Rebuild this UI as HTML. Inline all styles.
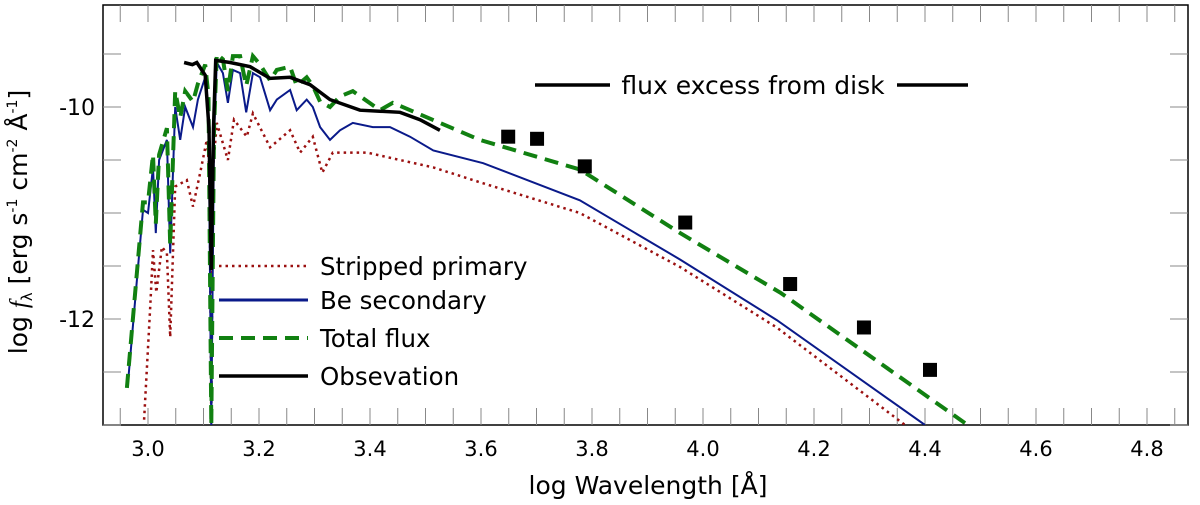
<!DOCTYPE html>
<html><head><meta charset="utf-8"><style>
body{margin:0;background:#fff;}
svg text{font-family:"DejaVu Sans","Liberation Sans",sans-serif;fill:#000;}
</style></head><body>
<svg id="chart" width="1200" height="500" viewBox="0 0 1200 500">
<g id="axes"></g><g id="series"></g><g id="legend"></g>
</svg>
<script>
const xTicks=[3.0,3.2,3.4,3.6,3.8,4.0,4.2,4.4,4.6,4.8];
const yTicks=[-10,-12];
const primX=[2.993,3.004,3.009,3.015,3.025,3.034,3.040,3.049,3.070,3.081,3.094,3.106,3.111,3.114,3.117,3.124,3.144,3.155,3.178,3.189,3.220,3.256,3.274,3.297,3.314,3.333,3.395,3.454,3.514,3.604,3.778,3.959,4.133,4.364];
const primY=[-12.95,-11.89,-11.35,-11.75,-11.32,-11.38,-12.17,-10.75,-10.69,-10.94,-10.62,-10.31,-10.6,-13.0,-10.6,-10.15,-10.50,-10.12,-10.28,-10.06,-10.38,-10.22,-10.43,-10.28,-10.62,-10.43,-10.43,-10.50,-10.57,-10.72,-11.0,-11.51,-12.08,-13.0];
const secX=[2.964,2.991,3.000,3.009,3.014,3.020,3.034,3.040,3.049,3.058,3.067,3.081,3.090,3.103,3.109,3.114,3.119,3.124,3.135,3.144,3.153,3.166,3.177,3.189,3.202,3.220,3.232,3.256,3.268,3.286,3.297,3.310,3.328,3.346,3.369,3.405,3.436,3.472,3.514,3.604,3.778,3.959,4.133,4.400];
const secY=[-12.60,-10.97,-11.00,-10.57,-11.19,-10.50,-10.31,-11.38,-10.00,-10.31,-10.00,-10.19,-9.93,-9.72,-10.0,-13.0,-10.3,-9.58,-9.68,-9.96,-9.65,-9.68,-10.05,-9.68,-9.72,-10.03,-9.93,-9.84,-10.03,-9.93,-10.00,-10.19,-10.31,-10.22,-10.15,-10.19,-10.19,-10.28,-10.41,-10.53,-10.88,-11.44,-12.01,-13.00];
const totX=[2.962,2.991,3.000,3.009,3.014,3.020,3.034,3.040,3.049,3.058,3.067,3.081,3.090,3.103,3.109,3.114,3.119,3.124,3.135,3.144,3.153,3.166,3.177,3.189,3.202,3.220,3.232,3.256,3.268,3.286,3.297,3.310,3.328,3.346,3.369,3.418,3.441,3.598,3.778,3.959,4.139,4.477];
const totY=[-12.65,-10.9,-10.9,-10.45,-11.1,-10.45,-10.2,-11.3,-9.85,-10.1,-9.85,-9.95,-9.78,-9.6,-9.9,-13.0,-10.2,-9.5,-9.55,-9.85,-9.52,-9.52,-9.8,-9.52,-9.6,-9.75,-9.65,-9.62,-9.8,-9.72,-9.8,-9.95,-10.0,-9.9,-9.85,-10.03,-9.96,-10.31,-10.59,-11.19,-11.75,-13.0];
const obsX=[3.065,3.080,3.088,3.103,3.110,3.114,3.118,3.122,3.148,3.184,3.220,3.256,3.292,3.328,3.382,3.454,3.490,3.526];
const obsY=[-9.58,-9.60,-9.58,-9.70,-10.2,-11.54,-10.2,-9.56,-9.58,-9.62,-9.73,-9.72,-9.79,-9.93,-10.03,-10.05,-10.12,-10.22];
const photX=[3.649,3.701,3.787,3.968,4.157,4.290,4.409];
const photY=[-10.28,-10.30,-10.56,-11.09,-11.67,-12.08,-12.48];
const L=103,R=1188,T=5,B=425;
function sx(v){return 148+(v-3)*555;}
function sy(v){return 107+(-10-v)*106;}
const NS='http://www.w3.org/2000/svg';
function mk(tag,at,parent){const e=document.createElementNS(NS,tag);for(const k in at)e.setAttribute(k,at[k]);parent.appendChild(e);return e;}
const axes=document.getElementById('axes'),ser=document.getElementById('series'),leg=document.getElementById('legend');
const frame=mk('rect',{x:L,y:T,width:R-L,height:B-T,fill:'none',stroke:'#000','stroke-width':1.5},axes);


for(let v=2.95;v<=4.86;v+=0.05){const x=sx(v);if(x<L||x>R)continue;
 const t=mk('path',{d:`M${x},${B}V${B-17}M${x},${T}V${T+17}`,stroke:'#888','stroke-width':1},axes);
 
 }
for(let v=-9.0;v>=-13.01;v-=0.5){const y=sy(v);if(y<T||y>B)continue;
 const t=mk('path',{d:`M${L},${y}H${L+18}M${R},${y}H${R-18}`,stroke:'#888','stroke-width':1},axes);
 
 }
xTicks.forEach(v=>{const t=mk('text',{x:sx(v),y:456,'font-size':21,'text-anchor':'middle'},axes);t.textContent=v.toFixed(1);
 
 });
yTicks.forEach(v=>{const t=mk('text',{x:95,y:sy(v)+8,'font-size':22,'text-anchor':'end'},axes);t.textContent=String(v);
 
 });
const xt=mk('text',{x:648,y:494,'font-size':25,'text-anchor':'middle'},axes);xt.textContent='log Wavelength [Å]';


const yt=mk('text',{x:0,y:0,'font-size':25,'text-anchor':'middle',transform:'translate(27,222) rotate(-90)'},axes);
yt.innerHTML='log <tspan font-style="italic" font-family="Liberation Serif">f</tspan><tspan font-size="15" dy="5">λ</tspan><tspan dy="-5"> [erg s</tspan><tspan font-size="14" dy="-10">-1</tspan><tspan dy="10"> cm</tspan><tspan font-size="14" dy="-10">-2</tspan><tspan dy="10"> Å</tspan><tspan font-size="14" dy="-10">-1</tspan><tspan dy="10">]</tspan>';


function pathOf(xs,ys){return xs.map((x,i)=>(i?'L':'M')+sx(x).toFixed(1)+','+Math.min(B,sy(ys[i])).toFixed(1)).join('');}
const cp=mk('clipPath',{id:'clip'},ser);mk('rect',{x:L,y:T,width:R-L,height:B-T},cp);
const p1=mk('path',{d:pathOf(primX,primY),fill:'none',stroke:'#9b1010','stroke-width':2.5,'stroke-dasharray':'2.5,4','clip-path':'url(#clip)'},ser);


const p2=mk('path',{d:pathOf(secX,secY),fill:'none',stroke:'#0a1a8a','stroke-width':2,'clip-path':'url(#clip)'},ser);


const p3=mk('path',{d:pathOf(totX,totY),fill:'none',stroke:'#118011','stroke-width':4,'stroke-dasharray':'14,8','clip-path':'url(#clip)'},ser);


const p4=mk('path',{d:pathOf(obsX,obsY),fill:'none',stroke:'#000','stroke-width':3.5,'clip-path':'url(#clip)'},ser);


photX.forEach((x,i)=>{const r=mk('rect',{x:sx(x)-7,y:sy(photY[i])-7,width:14,height:14,fill:'#000'},ser);
 
 });
const ex=mk('path',{d:'M535,85H610M897,85H968',stroke:'#000','stroke-width':3.5},leg);


const et=mk('text',{x:753,y:94,'font-size':25,'text-anchor':'middle'},leg);et.textContent='flux excess from disk';


const items=[['Stripped primary','#9b1010',2.5,'2.5,4',266],['Be secondary','#0a1a8a',3,'',300],['Total flux','#118011',4,'14,8',338],['Obsevation','#000',3.5,'',376]];
items.forEach(it=>{const g=mk('g',{},leg);
 
 
 mk('path',{d:`M219,${it[4]}H308`,stroke:it[1],'stroke-width':it[2],'stroke-dasharray':it[3]},g);
 const t=mk('text',{x:320,y:it[4]+9,'font-size':24.5},g);t.textContent=it[0];});
</script>
</body></html>
